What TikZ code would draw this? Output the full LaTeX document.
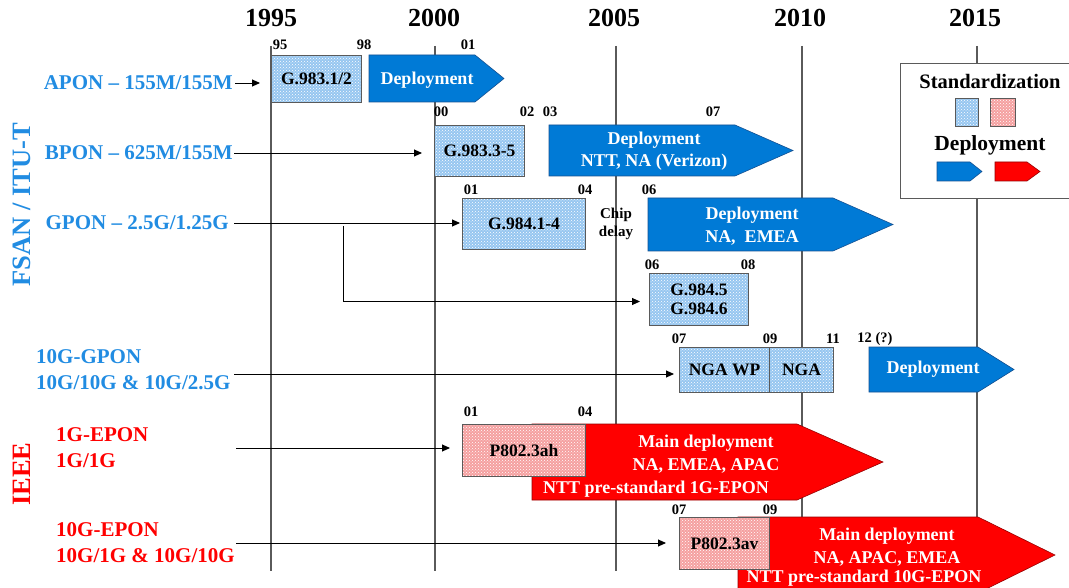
\documentclass[tikz,border=0pt]{standalone}
\usepackage{fontspec}
\setmainfont{Liberation Serif}
\usetikzlibrary{arrows.meta,patterns}

\definecolor{labelblue}{RGB}{33,140,226}
\definecolor{deployblue}{RGB}{0,122,214}
\definecolor{deployedge}{RGB}{20,80,145}
\definecolor{stdblue}{RGB}{150,198,240}
\definecolor{stdred}{RGB}{245,160,160}
\definecolor{ieeered}{RGB}{255,0,0}
\definecolor{rededge}{RGB}{150,0,0}
\definecolor{gridgray}{RGB}{90,90,90}

\begin{document}
\begin{tikzpicture}[x=1pt,y=-1pt,
  every node/.style={inner sep=0pt},
  year/.style={font=\fontsize{26}{26}\selectfont\bfseries},
  tick/.style={font=\fontsize{14.5}{14.5}\selectfont\bfseries},
  rowblue/.style={text=labelblue, font=\fontsize{21}{26}\selectfont\bfseries},
  rowred/.style={text=ieeered, font=\fontsize{21}{26}\selectfont\bfseries},
  side/.style={rotate=90, font=\fontsize{26.5}{26.5}\selectfont\bfseries},
  gridline/.style={draw=gridgray, line width=1.1pt},
  conn/.style={draw=black, line width=0.9pt, -{Triangle[length=8pt,width=7pt]}},
  stdbox/.style={draw=gridgray, line width=1pt, preaction={fill=stdblue},
    pattern=crosshatch dots, pattern color=white, anchor=north west,
    font=\fontsize{17.5}{19}\selectfont\bfseries, align=center},
  stdboxred/.style={stdbox, preaction={fill=stdred}},
  bluearrow/.style={fill=deployblue, draw=deployedge, line width=0.6pt},
  redarrow/.style={fill=ieeered, draw=rededge, line width=0.6pt},
  deptext/.style={text=white, font=\fontsize{18}{22.5}\selectfont\bfseries, align=center},
  legendtext/.style={font=\fontsize{20.5}{20.5}\selectfont\bfseries}
]
\useasboundingbox (0,0) rectangle (1069,588);
\clip (0,0) rectangle (1069,588);

% year axis
\node[year] (y1995) at (271,18) {1995};
\node[year] (y2000) at (434,18) {2000};
\node[year] (y2005) at (614,18) {2005};
\node[year] (y2010) at (800,18) {2010};
\node[year] (y2015) at (975,18) {2015};
\foreach \x in {271,435,616,802,977}
  \draw[gridline] (\x,46) -- (\x,571);

% legend
\node[draw=gridgray, line width=1pt, fill=white, anchor=north west,
      minimum width=170, minimum height=135] (legend) at (900,63) {};
\node[legendtext] (legstd) at (990,81) {Standardization};
\node[stdbox, minimum width=23, minimum height=28] (legsb) at (955,98) {};
\node[stdboxred, minimum width=25, minimum height=28] (legsr) at (990,98) {};
\node[legendtext, font=\fontsize{21.5}{21.5}\selectfont\bfseries] (legdep) at (990,145) {Deployment};
\filldraw[bluearrow] (937,162) -- (970,162) -- (982,171.5) -- (970,181) -- (937,181) -- cycle;
\filldraw[redarrow] (995,162) -- (1027,162) -- (1040,171.5) -- (1027,181) -- (995,181) -- cycle;

% group labels
\node[side, text=labelblue] (fsan) at (22,205) {FSAN / ITU-T};
\node[side, text=ieeered] (ieee) at (22,474) {IEEE};

% APON
\node[rowblue, anchor=east] (apon) at (233,83) {APON – 155M/155M};
\node[stdbox, minimum width=90, minimum height=47] (g9831) at (271,55) {G.983.1/2};
\filldraw[bluearrow] (369,55) -- (475,55) -- (504,78.5) -- (475,102) -- (369,102) -- cycle;
\node[deptext] (aponDep) at (427,80) {Deployment};
\node[tick] (t95) at (280,45) {95};
\node[tick] (t98) at (364,45) {98};
\node[tick] (t01a) at (468,45) {01};
\draw[conn, shorten <=2pt, shorten >=11pt] (apon.east) -- (apon.east -| g9831.west);

% BPON
\node[rowblue, anchor=east] (bpon) at (233,153) {BPON – 625M/155M};
\node[stdbox, minimum width=90, minimum height=51] (g9833) at (434,125) {G.983.3-5};
\filldraw[bluearrow] (549,125) -- (735,125) -- (793,150.5) -- (735,176) -- (549,176) -- cycle;
\node[deptext] (bponDep) at (654,151) {Deployment\\NTT, NA (Verizon)};
\node[tick] (t00) at (441,112) {00};
\node[tick] (t02) at (527,112) {02};
\node[tick] (t03) at (550,112) {03};
\node[tick] (t07a) at (713,112) {07};
\draw[conn, shorten <=1pt, shorten >=12pt] (bpon.east) -- (bpon.east -| g9833.west);

% GPON
\node[rowblue, anchor=east] (gpon) at (229,223) {GPON – 2.5G/1.25G};
\node[stdbox, minimum width=123, minimum height=51] (g9841) at (462,198) {G.984.1-4};
\filldraw[bluearrow] (648,198) -- (833,198) -- (893,224.5) -- (833,251) -- (648,251) -- cycle;
\node[deptext] (gponDep) at (752,226) {Deployment\\NA,~ EMEA};
\node[tick, align=center, font=\fontsize{15}{18}\selectfont\bfseries] (chip) at (616,224) {Chip\\delay};
\node[tick] (t01b) at (471,190) {01};
\node[tick] (t04a) at (585,190) {04};
\node[tick] (t06a) at (649,190) {06};
\draw[conn, shorten <=5pt, shorten >=2pt] (gpon.east) -- (gpon.east -| g9841.west);

% GPON extensions
\node[stdbox, minimum width=99, minimum height=52] (g9845) at (649,273) {G.984.5\\G.984.6};
\node[tick] (t06b) at (652,265) {06};
\node[tick] (t08) at (748,265) {08};
\coordinate (gsplit) at (343,226);
\draw[conn, shorten >=9pt] (gsplit) |- ([yshift=-2pt]g9845.west);

% 10G-GPON
\node[rowblue, anchor=west, align=left] (xgpon) at (36,370) {10G-GPON\\10G/10G \& 10G/2.5G};
\node[stdbox, minimum width=90, minimum height=45] (ngawp) at (679,347) {NGA WP};
\node[stdbox, minimum width=64, minimum height=45] (nga) at (769,347) {NGA};
\filldraw[bluearrow] (869,347) -- (978,347) -- (1014,369.5) -- (978,392) -- (869,392) -- cycle;
\node[deptext] (xgponDep) at (933,369) {Deployment};
\node[tick] (t07b) at (679,339) {07};
\node[tick] (t09a) at (770,339) {09};
\node[tick] (t11) at (833,339) {11};
\node[tick] (t12) at (875,339) {12 (?)};
\coordinate (xgstart) at (234,374);
\draw[conn, shorten >=5pt] (xgstart) -- (xgstart -| ngawp.west);

% 1G-EPON
\node[rowred, anchor=west, align=left] (epon) at (56,448) {1G-EPON\\1G/1G};
\filldraw[redarrow] (532,424) -- (797,424) -- (883,462) -- (797,500) -- (532,500) -- cycle;
\node[stdboxred, minimum width=123, minimum height=52] (p8023ah) at (462,424) {P802.3ah};
\node[deptext] (eponDep) at (706,454) {Main deployment\\NA, EMEA, APAC};
\node[deptext] (eponNtt) at (656,489) {NTT pre-standard 1G-EPON};
\node[tick] (t01c) at (471,412) {01};
\node[tick] (t04b) at (585,412) {04};
\coordinate (epstart) at (236,448);
\draw[conn, shorten >=12pt] (epstart) -- (epstart -| p8023ah.west);

% 10G-EPON
\node[rowred, anchor=west, align=left] (xepon) at (56,543) {10G-EPON\\10G/1G \& 10G/10G};
\filldraw[redarrow] (738,517) -- (978,517) -- (1055,555) -- (978,593) -- (738,593) -- cycle;
\node[stdboxred, minimum width=90, minimum height=52] (p8023av) at (679,517) {P802.3av};
\node[deptext] (xeponDep) at (887,547) {Main deployment\\NA, APAC, EMEA};
\node[deptext] (xeponNtt) at (864,578) {NTT pre-standard 10G-EPON};
\node[tick] (t07c) at (679,510) {07};
\node[tick] (t09b) at (770,510) {09};
\coordinate (xepstart) at (236,543);
\draw[conn, shorten >=13pt] (xepstart) -- (xepstart -| p8023av.west);

\end{tikzpicture}
\end{document}
